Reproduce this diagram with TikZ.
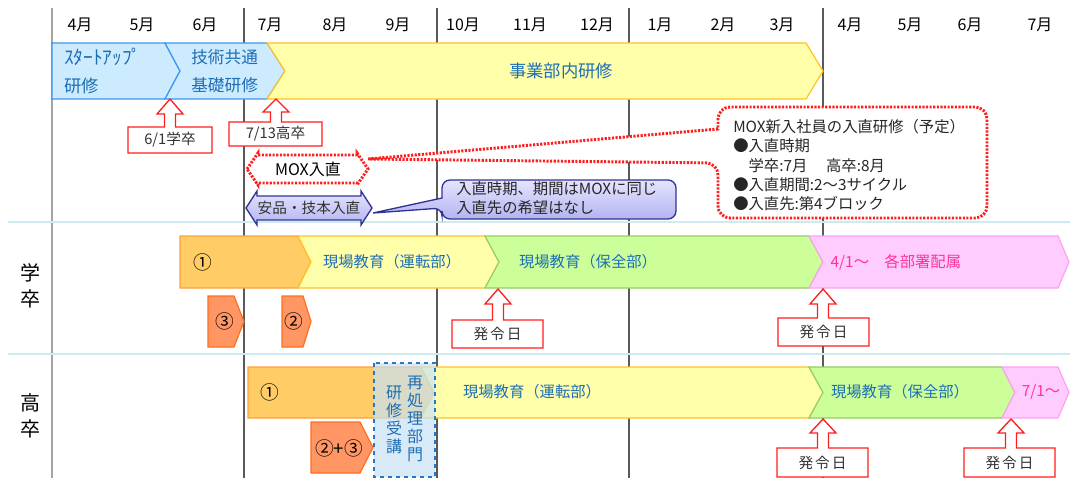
\documentclass[tikz,border=0pt]{standalone}
\usepackage{fontspec}
\setmainfont{Noto Sans CJK JP}
\usepackage{tikz}
\definecolor{gridgray}{RGB}{90,90,90}
\definecolor{sepcyan}{RGB}{205,235,240}
\definecolor{barblue}{RGB}{205,235,255}
\definecolor{barblueline}{RGB}{60,150,240}
\definecolor{baryellow}{RGB}{255,255,170}
\definecolor{baryellowline}{RGB}{255,195,40}
\definecolor{barorange}{RGB}{255,204,102}
\definecolor{barorangeline}{RGB}{255,160,60}
\definecolor{barsmall}{RGB}{255,150,100}
\definecolor{barsmallline}{RGB}{255,110,30}
\definecolor{bargreen}{RGB}{204,255,153}
\definecolor{bargreenline}{RGB}{150,205,100}
\definecolor{barpink}{RGB}{255,204,255}
\definecolor{barpinkline}{RGB}{255,160,240}
\definecolor{textblue}{RGB}{30,110,180}
\definecolor{textpink}{RGB}{255,50,150}
\definecolor{redline}{RGB}{255,30,30}
\definecolor{lavtop}{RGB}{228,228,255}
\definecolor{lavbot}{RGB}{180,180,240}
\definecolor{lavline}{RGB}{50,50,150}
\definecolor{dashblue}{RGB}{40,120,200}
\definecolor{dashfill}{RGB}{200,225,245}
\newcommand{\chevron}[7]{\draw[#1] (#2,#6)--(#4,#6)--(#5,{(#6+#7)/2})--(#4,#7)--(#2,#7)--({#2+#3},{(#6+#7)/2})--cycle;}
\newcommand{\upcallout}[9]{
  \draw[redbox] (#3,#4)--({#3+13},#5)--({#3+5.5},#5)--({#3+5.5},#8)--(#7,#8)--(#7,#9)--(#6,#9)--(#6,#8)--({#3-5.5},#8)--({#3-5.5},#5)--({#3-13},#5)--cycle;
  \node[redtext] (#1) at ({(#6+#7)/2},{(#8+#9)/2}) {#2};
}
\newcommand{\dblarrow}[6]{\draw[#1] (#2,#4)--({#2+11},{#4-#6})--({#2+11},{#4-#5})--({#3-11},{#4-#5})--({#3-11},{#4-#6})--(#3,#4)--({#3-11},{#4+#6})--({#3-11},{#4+#5})--({#2+11},{#4+#5})--({#2+11},{#4+#6})--cycle;}
\tikzset{
  gridline/.style={draw=gridgray,line width=0.8pt},
  sepline/.style={draw=sepcyan,line width=0.8pt},
  month/.style={font=\fontsize{12}{14}\selectfont},
  bluebar/.style={fill=barblue,draw=barblueline,line width=0.9pt},
  yellowbar/.style={fill=baryellow,draw=baryellowline,line width=0.9pt},
  orangebar/.style={fill=barorange,draw=barorangeline,line width=0.9pt},
  smallbar/.style={fill=barsmall,draw=barsmallline,line width=0.9pt},
  greenbar/.style={fill=bargreen,draw=bargreenline,line width=0.9pt},
  pinkbar/.style={fill=barpink,draw=barpinkline,line width=0.9pt},
  bandtext/.style={text=textblue,font=\fontsize{11.5}{13}\selectfont},
  pinktext/.style={text=textpink,font=\fontsize{11.5}{13}\selectfont},
  numtext/.style={font=\fontsize{14}{16}\selectfont},
  redbox/.style={draw=redline,fill=white,line width=1pt},
  redtext/.style={text=black!80,font=\fontsize{11}{13}\selectfont},
  moxline/.style={draw=redline,line width=2.2pt,dash pattern=on 1.6pt off 1.1pt,fill=white},
  lavbox/.style={draw=lavline,line width=1pt,top color=lavtop,bottom color=lavbot},
  calltext/.style={text=black!85,font=\fontsize{11.5}{14.5}\selectfont,align=left,inner sep=0pt},
  dashbox/.style={draw=dashblue,dashed,line width=0.9pt,fill=dashfill,fill opacity=0.7},
  vertext/.style={text=textblue,font=\fontsize{12}{13.5}\selectfont,align=center,inner sep=0pt},
  rowlabel/.style={font=\fontsize{15}{19}\selectfont,align=center}
}
\begin{document}
\begin{tikzpicture}[x=0.75pt,y=-0.75pt]
\useasboundingbox (0,0) rectangle (1070,478);
\draw[draw=gridgray!55,line width=1.5pt] (52,8)--(52,478);
\foreach \x in {244,437,629,823}{
  \draw[gridline] (\x,8)--(\x,478);
}
\foreach \y in {222,354}{
  \draw[sepline] (8,\y)--(1070,\y);
}
\foreach \m/\x [count=\i] in {4/80,5/142,6/205,7/270,8/335,9/398,10/463,11/530,12/597,1/660,2/723,3/782,4/850,5/910,6/970,7/1040}{
  \node[month] (month\i) at (\x,25) {{\m}月};
}
\chevron{bluebar}{52}{0}{165}{180}{43}{99}
\chevron{bluebar}{165}{15}{267}{285}{43}{99}
\chevron{yellowbar}{267}{18}{806}{823}{43}{99}
\node[text=textblue,font=\fontsize{13}{21}\selectfont,align=left,anchor=west,inner sep=0pt] (startup) at (64,71) {{\fontsize{14.5}{21}\selectfont ｽﾀｰﾄｱｯﾌﾟ}\\研修};
\node[text=textblue,font=\fontsize{12.5}{21}\selectfont,align=left,anchor=west,inner sep=0pt] (kiso) at (191,71) {技術共通\\基礎研修};
\node[text=textblue,font=\fontsize{13}{15}\selectfont] (jigyobu) at (561,71) {事業部内研修};
\upcallout{gaku61}{6/1学卒}{170}{99}{114}{128}{212}{127}{153}
\upcallout{kou713}{7/13高卒}{276}{99}{112}{229}{322}{122}{146}
\draw[moxline] (368,159)--(718,129) [rounded corners=9pt]--(718,107)--(987,107)--(987,218)--(718,218)--(718,163) [sharp corners]--cycle;
\node[calltext,anchor=north west] (moxnote) at (733,119) {MOX新入社員の入直研修（予定）\\●入直時期\\　学卒:7月　 高卒:8月\\●入直期間:2～3サイクル\\●入直先:第4ブロック};
\dblarrow{moxline}{247}{368}{169}{14}{16}
\node[font=\fontsize{12}{14}\selectfont] (mox) at (308,169) {MOX入直};
\draw[lavbox] (373,213)--(442,198) [rounded corners=6pt]--(442,180)--(676,180)--(676,219)--(442,219)--(442,208) [sharp corners]--cycle;
\node[calltext,anchor=north west] (anpinnote) at (456,181) {入直時期、期間はMOXに同じ\\入直先の希望はなし};
\dblarrow{lavbox}{246}{372}{208}{12}{17}
\node[font=\fontsize{11}{13}\selectfont,text=black!80] (anpin) at (309,208) {安品・技本入直};
\node[rowlabel] (rowgaku) at (31,286) {学\\卒};
\node[rowlabel] (rowkou) at (31,416) {高\\卒};
\chevron{orangebar}{180}{0}{298}{311}{236}{288}
\chevron{yellowbar}{298}{13}{485}{499}{236}{288}
\chevron{greenbar}{485}{14}{809}{823}{236}{288}
\chevron{pinkbar}{809}{14}{1058}{1069}{236}{288}
\node[numtext] (gakuone) at (203,262) {①};
\node[bandtext] (gakuunten) at (392,262) {現場教育（運転部）};
\node[bandtext] (gakuhozen) at (588,262) {現場教育（保全部）};
\node[pinktext,anchor=west] (haizoku) at (826,262) {4/1～　各部署配属};
\chevron{smallbar}{208}{0}{234}{244}{296}{347}
\chevron{smallbar}{282}{0}{303}{311}{296}{347}
\node[numtext] (gakuthree) at (225,321) {③};
\node[numtext] (gakutwo) at (294,321) {②};
\upcallout{hatsurei1}{発\kern1.5pt 令\kern1.5pt 日}{498}{289}{304}{452}{543}{320}{348}
\upcallout{hatsurei2}{発\kern1.5pt 令\kern1.5pt 日}{823}{289}{304}{778}{869}{318}{346}
\chevron{orangebar}{248}{0}{421}{434}{367}{418}
\chevron{yellowbar}{421}{13}{809}{823}{367}{418}
\chevron{greenbar}{809}{14}{1002}{1015}{367}{418}
\chevron{pinkbar}{1002}{13}{1058}{1069}{367}{418}
\node[numtext] (kouone) at (270,392) {①};
\node[bandtext] (kouunten) at (532,392) {現場教育（運転部）};
\node[bandtext] (kouhozen) at (900,392) {現場教育（保全部）};
\node[pinktext] (kounanagatsu) at (1041,392) {7/1～};
\chevron{smallbar}{311}{0}{360}{373}{422}{473}
\node[numtext] (koutwothree) at (339,448) {②+③};
\draw[dashbox] (374,363) rectangle (435,477);
\node[vertext] (saishori) at (415,419) {再\\処\\理\\部\\門};
\node[vertext] (kenshu) at (394,420) {研\\修\\受\\講};
\upcallout{hatsurei3}{発\kern1.5pt 令\kern1.5pt 日}{823}{419}{433}{777}{868}{448}{477}
\upcallout{hatsurei4}{発\kern1.5pt 令\kern1.5pt 日}{1011}{419}{433}{964}{1055}{448}{477}
\end{tikzpicture}
\end{document}
